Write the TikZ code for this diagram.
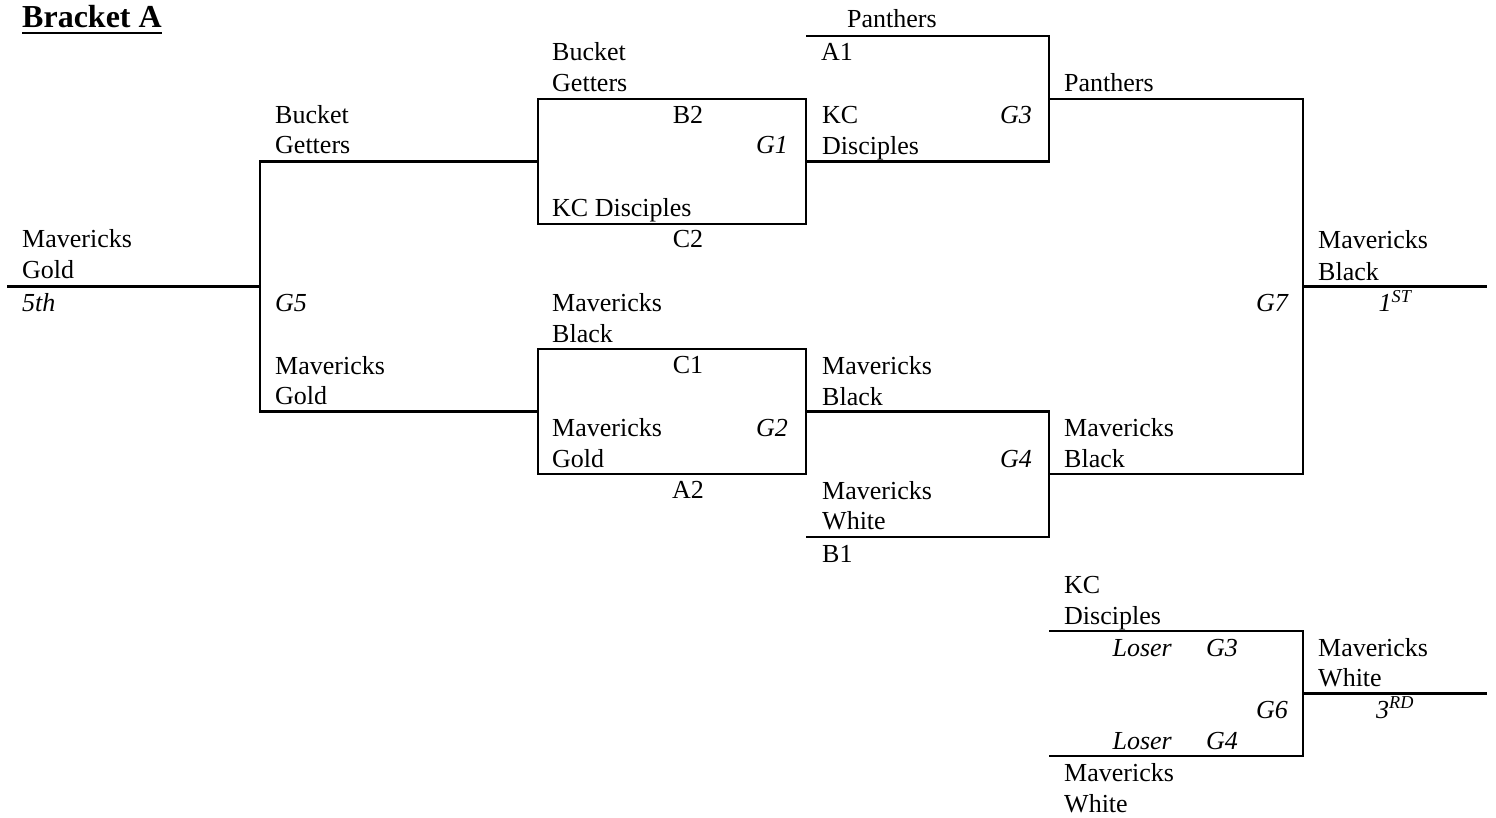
\documentclass[tikz,border=0pt]{standalone}
\usepackage{fontspec}
\setmainfont{Liberation Serif}
\usepackage{tikz}

\begin{document}
\begin{tikzpicture}[every node/.style={inner sep=0pt, font=\fontsize{26}{31}\selectfont},
  team/.style={anchor=base west},
  seed/.style={anchor=base},
  game/.style={anchor=base east, font=\fontsize{26}{31}\selectfont\itshape},
  gamel/.style={anchor=base west, font=\fontsize{26}{31}\selectfont\itshape},
  place/.style={anchor=base, font=\fontsize{26}{31}\selectfont\itshape},
  bline/.style={line width=2.3pt, color=black}]
\useasboundingbox (0pt, 0pt) rectangle (1496pt, -818pt);
% title
\node (title) [anchor=base west, font=\fontsize{32}{38}\selectfont\bfseries] at (22.0pt, -28.0pt) {Bracket A};
\draw [line width=2.6pt] ([yshift=-5pt]title.base west) to ([yshift=-5pt]title.base east);
% boxes
\node (box1) [rectangle, minimum width=268.5pt, minimum height=125pt, line width=2.3pt, draw=black] at (672.0pt, -161.5pt) {};
\node (box2) [rectangle, minimum width=268.5pt, minimum height=125pt, line width=2.3pt, draw=black] at (672.0pt, -411.5pt) {};
% corners
\coordinate (c5e) at (7.0pt, -286.5pt);
\coordinate (c5m) at (260.0pt, -286.5pt);
\coordinate (c5t) at (260.0pt, -161.5pt);
\coordinate (c5b) at (260.0pt, -411.5pt);
\coordinate (c3a) at (806.0pt, -36.0pt);
\coordinate (c3b) at (1049.0pt, -36.0pt);
\coordinate (c3c) at (1049.0pt, -161.5pt);
\coordinate (c3m) at (1049.0pt, -99.0pt);
\coordinate (c4a) at (1049.0pt, -411.5pt);
\coordinate (c4b) at (1049.0pt, -537.0pt);
\coordinate (c4c) at (806.0pt, -537.0pt);
\coordinate (c4m) at (1049.0pt, -474.0pt);
\coordinate (c7t) at (1303.0pt, -99.0pt);
\coordinate (c7b) at (1303.0pt, -474.0pt);
\coordinate (c7m) at (1303.0pt, -286.5pt);
\coordinate (c7e) at (1487.0pt, -286.5pt);
\coordinate (c6a) at (1049.0pt, -631.0pt);
\coordinate (c6b) at (1303.0pt, -631.0pt);
\coordinate (c6c) at (1303.0pt, -756.0pt);
\coordinate (c6d) at (1049.0pt, -756.0pt);
\coordinate (c6m) at (1303.0pt, -693.5pt);
\coordinate (c6e) at (1487.0pt, -693.5pt);
% lines
\draw [bline] (c5e) to (c5m);
\draw [bline] (box1.west) to (c5t) to (c5b) to (box2.west);
\draw [bline] (c3a) to (c3b) to (c3c) to (box1.east);
\draw [bline] (box2.east) to (c4a) to (c4b) to (c4c);
\draw [bline] (c3m) to (c7t) to (c7b) to (c4m);
\draw [bline] (c7m) to (c7e);
\draw [bline] (c6a) to (c6b) to (c6c) to (c6d);
\draw [bline] (c6m) to (c6e);
% first column
\node (mg1) [team] at (22.0pt, -248.0pt) {Mavericks};
\node (mg2) [team] at (22.0pt, -279.0pt) {Gold};
\node (fifth) [gamel] at (22.0pt, -312.0pt) {5th};
\node (bg1) [team] at (275.0pt, -124.0pt) {Bucket};
\node (bg2) [team] at (275.0pt, -154.0pt) {Getters};
\node (lg5) [gamel] at (275.0pt, -312.0pt) {G5};
\node (mg3) [team] at (275.0pt, -374.0pt) {Mavericks};
\node (mg4) [team] at (275.0pt, -404.0pt) {Gold};
% G1 and G2
\node (bg3) [team] at (552.0pt, -61.0pt) {Bucket};
\node (bg4) [team] at (552.0pt, -92.0pt) {Getters};
\node (b2) [seed] at (688.0pt, -124.0pt) {B2};
\node (lg1) [game] at (788.0pt, -154.0pt) {G1};
\node (kc1) [team] at (552.0pt, -217.0pt) {KC Disciples};
\node (c2) [seed] at (688.0pt, -248.0pt) {C2};
\node (mb1) [team] at (552.0pt, -311.0pt) {Mavericks};
\node (mb2) [team] at (552.0pt, -342.0pt) {Black};
\node (c1) [seed] at (688.0pt, -373.0pt) {C1};
\node (mg5) [team] at (552.0pt, -436.0pt) {Mavericks};
\node (mg6) [team] at (552.0pt, -467.0pt) {Gold};
\node (lg2) [game] at (788.0pt, -436.0pt) {G2};
\node (a2) [seed] at (688.0pt, -498.0pt) {A2};
% G3 and G4
\node (pa1) [team] at (847.0pt, -28.0pt) {Panthers};
\node (a1) [team] at (821.0pt, -61.0pt) {A1};
\node (kc2) [team] at (822.0pt, -124.0pt) {KC};
\node (kc3) [team] at (822.0pt, -155.0pt) {Disciples};
\node (lg3) [game] at (1032.0pt, -124.0pt) {G3};
\node (mb3) [team] at (822.0pt, -374.0pt) {Mavericks};
\node (mb4) [team] at (822.0pt, -405.0pt) {Black};
\node (lg4) [game] at (1032.0pt, -467.0pt) {G4};
\node (mw1) [team] at (822.0pt, -499.0pt) {Mavericks};
\node (mw2) [team] at (822.0pt, -529.0pt) {White};
\node (b1) [team] at (822.0pt, -562.0pt) {B1};
% G7
\node (pa2) [team] at (1064.0pt, -92.0pt) {Panthers};
\node (mb5) [team] at (1064.0pt, -436.0pt) {Mavericks};
\node (mb6) [team] at (1064.0pt, -467.0pt) {Black};
\node (lg7) [game] at (1288.0pt, -312.0pt) {G7};
\node (mb7) [team] at (1318.0pt, -249.0pt) {Mavericks};
\node (mb8) [team] at (1318.0pt, -280.0pt) {Black};
\node (first) [place] at (1395.0pt, -312.0pt) {1\textsuperscript{ST}};
% G6
\node (kc4) [team] at (1064.0pt, -593.0pt) {KC};
\node (kc5) [team] at (1064.0pt, -624.0pt) {Disciples};
\node (lo1) [game] at (1172.0pt, -656.0pt) {Loser};
\node (lo2) [gamel] at (1206.0pt, -656.0pt) {G3};
\node (lg6) [game] at (1288.0pt, -718.0pt) {G6};
\node (lo3) [game] at (1172.0pt, -749.0pt) {Loser};
\node (lo4) [gamel] at (1206.0pt, -749.0pt) {G4};
\node (mw3) [team] at (1064.0pt, -781.0pt) {Mavericks};
\node (mw4) [team] at (1064.0pt, -812.0pt) {White};
\node (mw5) [team] at (1318.0pt, -656.0pt) {Mavericks};
\node (mw6) [team] at (1318.0pt, -686.0pt) {White};
\node (third) [place] at (1395.0pt, -718.0pt) {3\textsuperscript{RD}};
\end{tikzpicture}
\end{document}
